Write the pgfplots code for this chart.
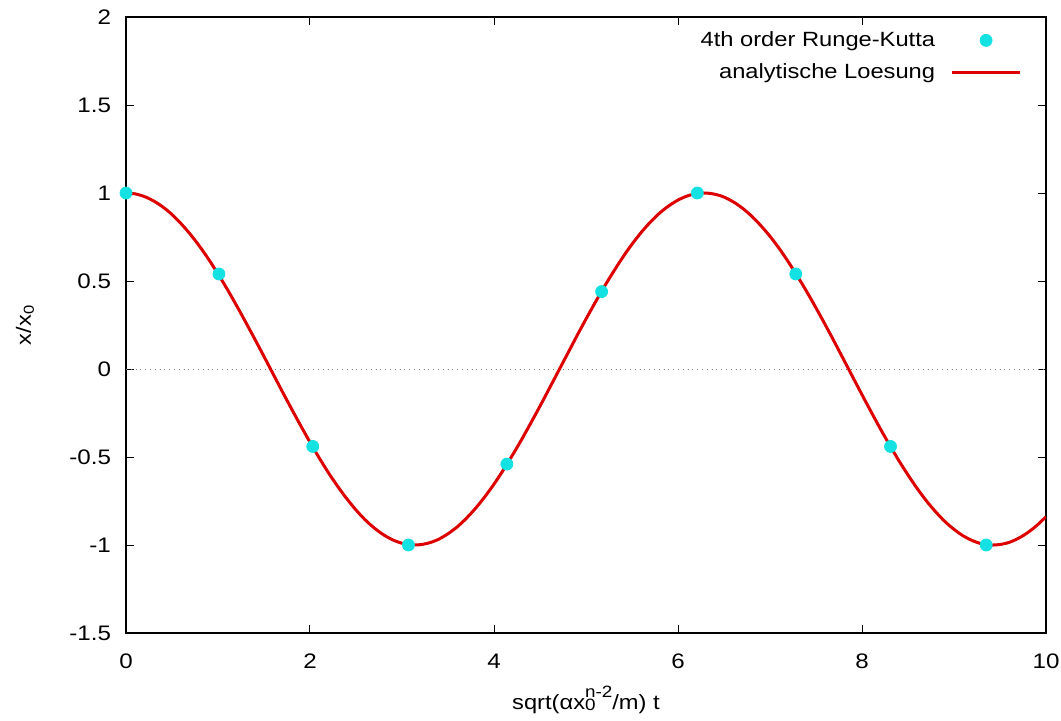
\documentclass[border=0pt]{standalone}
\usepackage{fontspec}
\setmainfont[FakeStretch=1.15]{Liberation Sans}
\usepackage{pgfplots}
\pgfplotsset{compat=1.18}
\definecolor{rkcyan}{RGB}{20,225,225}
\definecolor{anred}{RGB}{220,0,0}
\pgfplotsset{
  rkleg/.style={legend image code/.code={\path[draw=none,fill=none] (0pt,0pt) -- (40.5pt,0pt);\fill[rkcyan] (23.5pt,0pt) circle (3pt);}},
  anleg/.style={legend image code/.code={\path[draw=none,fill=none] (0pt,0pt) -- (40.5pt,0pt);\draw[anred, line width=1.5pt] (6.5pt,0pt) -- (40.5pt,0pt);}},
}
\newcommand{\lblfont}{\fontsize{10.3}{12}\selectfont}
\newcommand{\tckfont}{\fontsize{10.5}{12}\selectfont}
\newcommand{\scr}{\fontsize{8.2}{9}\selectfont}
\begin{document}
\begin{tikzpicture}
\useasboundingbox (-63pt,-43.5pt) rectangle (467.5pt,316.5pt);
\begin{axis}[
  at={(0pt,0pt)}, anchor=south west,
  scale only axis, width=460pt, height=308pt,
  xmin=0, xmax=10, ymin=-1.5, ymax=2,
  xtick={0,2,4,6,8,10},
  xticklabels={0,2,4,6,8,10},
  ytick={-1.5,-1,-0.5,0,0.5,1,1.5,2},
  yticklabels={-1.5,-1,-0.5,0,0.5,1,1.5,2},
  tick align=inside, major tick length=4pt,
  tick style={black, line width=0.5pt},
  axis line style={black, line width=0.6pt},
  minor tick num=0,
  xticklabel style={font=\tckfont, yshift=-7pt},
  yticklabel style={font=\tckfont, xshift=-4pt},
  xlabel={sqrt(αx\makebox[0pt][l]{\raisebox{-0.5pt}{\scr 0}}\raisebox{6pt}{\scr n-2}/m) t},
  ylabel={x/x\textsubscript{0}},
  xlabel style={font=\lblfont, at={(axis description cs:0.5,0)}, anchor=base, yshift=-38pt},
  ylabel style={font=\lblfont, at={(axis description cs:0,0.5)}, anchor=center, yshift=50.5pt},
  legend style={draw=none, fill=none, inner sep=0pt, at={(axis description cs:1,1)}, anchor=north east, xshift=-12pt, yshift=-5pt,
     font=\lblfont, row sep=3pt},
  legend cell align=right,
  legend plot pos=right,
  clip=true,
]
\addplot[gray, dotted, line width=0.4pt, forget plot] coordinates {(0,0) (10,0)};
\addplot[only marks, mark=*, mark size=3pt, mark options={draw=rkcyan, fill=rkcyan}, rkleg]
 coordinates {
 (0,1) (1.01,0.54) (2.03,-0.44) (3.07,-1.0) (4.14,-0.54) (5.17,0.44) (6.21,1.0) (7.28,0.54) (8.31,-0.44) (9.35,-1.0)
 };
\addlegendentry{4th order Runge-Kutta}
\addplot[anred, line width=1.5pt, smooth, no marks, anleg]
 coordinates {
 (0.0,1.000) (0.1,0.995) (0.2,0.980) (0.3,0.955) (0.4,0.921) (0.5,0.878) (0.6,0.825) (0.7,0.765) (0.8,0.697) (0.9,0.622)
 (1.0,0.540) (1.1,0.454) (1.2,0.362) (1.3,0.267) (1.4,0.170) (1.5,0.071) (1.6,-0.029) (1.7,-0.129) (1.8,-0.227) (1.9,-0.323)
 (2.0,-0.416) (2.1,-0.505) (2.2,-0.589) (2.3,-0.666) (2.4,-0.737) (2.5,-0.801) (2.6,-0.857) (2.7,-0.904) (2.8,-0.942) (2.9,-0.971)
 (3.0,-0.990) (3.1,-0.999) (3.2,-0.998) (3.3,-0.987) (3.4,-0.967) (3.5,-0.936) (3.6,-0.897) (3.7,-0.848) (3.8,-0.791) (3.9,-0.726)
 (4.0,-0.654) (4.1,-0.575) (4.2,-0.490) (4.3,-0.401) (4.4,-0.307) (4.5,-0.211) (4.6,-0.112) (4.7,-0.012) (4.8,0.087) (4.9,0.187)
 (5.0,0.284) (5.1,0.378) (5.2,0.469) (5.3,0.554) (5.4,0.635) (5.5,0.709) (5.6,0.776) (5.7,0.835) (5.8,0.886) (5.9,0.927)
 (6.0,0.960) (6.1,0.983) (6.2,0.997) (6.3,1.000) (6.4,0.993) (6.5,0.977) (6.6,0.950) (6.7,0.914) (6.8,0.869) (6.9,0.815)
 (7.0,0.754) (7.1,0.685) (7.2,0.608) (7.3,0.526) (7.4,0.439) (7.5,0.347) (7.6,0.252) (7.7,0.154) (7.8,0.054) (7.9,-0.046)
 (8.0,-0.146) (8.1,-0.244) (8.2,-0.340) (8.3,-0.432) (8.4,-0.520) (8.5,-0.602) (8.6,-0.679) (8.7,-0.749) (8.8,-0.811) (8.9,-0.866)
 (9.0,-0.911) (9.1,-0.948) (9.2,-0.975) (9.3,-0.993) (9.4,-1.000) (9.5,-0.997) (9.6,-0.985) (9.7,-0.962) (9.8,-0.930) (9.9,-0.889)
 (10.0,-0.839)
 };
\addlegendentry{analytische Loesung}
\end{axis}
\end{tikzpicture}
\end{document}
